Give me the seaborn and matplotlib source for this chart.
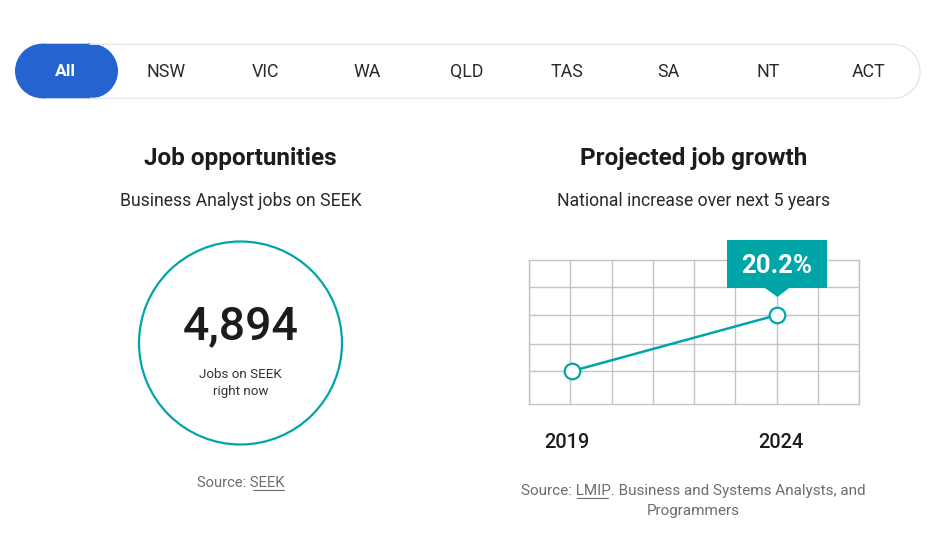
#!/usr/bin/env python

import numpy as np
import pandas as pd
import matplotlib.pyplot as plt
import seaborn as sns
from matplotlib.patches import Circle, Polygon, Rectangle

# estilo igual ao da pagina
plt.style.use('seaborn-v0_8-whitegrid')
sns.set_palette(["#00a5a8"])
plt.rcParams['font.family'] = ['Roboto', 'DejaVu Sans']

teal = '#00a5a8'
dark = '#1c1c1c'
grey = '#6d6e71'

# dados do grafico (crescimento nacional, 2019 = base 100)
growth_df = pd.DataFrame({'Year': [2019, 2024], 'Index': [100.0, 120.2]})

tabs = ['All', 'NSW', 'VIC', 'WA', 'QLD', 'TAS', 'SA', 'NT', 'ACT']
tab_x = [65, 166, 266, 367, 467, 567, 668, 768, 869]

fig = plt.figure(figsize=(9.34, 5.36), dpi=100)

# eixo do grafico de linha, posicao em pixels da figura
ax = fig.add_axes([529 / 934, 1 - 404 / 536, 330 / 934, 144 / 536])

sns.lineplot(
    data=growth_df,
    x='Year',
    y='Index',
    ax=ax,
    color=teal,
    linewidth=1.8,
    marker='o',
    markersize=11.2,
    markerfacecolor='white',
    markeredgecolor=teal,
    markeredgewidth=1.6,
    zorder=5
)

ax.set_xlim(2017.94, 2025.99)
ax.set_ylim(88.1, 140.0)
ax.set_xticks(np.linspace(2017.94, 2025.99, 9))
ax.set_yticks([100, 109.8, 120.2, 130.1])
ax.set_xlabel('')
ax.set_ylabel('')
ax.tick_params(labelbottom=False, labelleft=False, length=0)

# grade cinza
ax.grid(True, color='#c4c4c4', linestyle='-', linewidth=1.0)
ax.set_axisbelow(True)
for spine in ax.spines.values():
    spine.set_visible(True)
    spine.set_color('#c4c4c4')
    spine.set_linewidth(1.0)

# camada por cima com coordenadas em pixels para os textos e as abas
ui = fig.add_axes([0, 0, 1, 1], facecolor='none')
ui.set_xlim(0, 934)
ui.set_ylim(536, 0)
ui.axis('off')

# barra de abas
theta = np.linspace(-np.pi / 2, np.pi / 2, 60)
outline_x = np.concatenate([[90], 893 + 27 * np.cos(theta), [90]])
outline_y = np.concatenate([[44.3], 71.3 + 27 * np.sin(theta), [98.3]])
ui.plot(outline_x, outline_y, color='#e3e6ef', linewidth=1.0)
ui.add_patch(Circle((42.3, 71), 27.3, facecolor='#2563d0', edgecolor='none'))
ui.add_patch(Circle((90.7, 71), 27.3, facecolor='#2563d0', edgecolor='none'))
ui.add_patch(Rectangle((42.3, 43.7), 48.4, 54.6, facecolor='#2563d0', edgecolor='none', snap=False))
for name, x in zip(tabs, tab_x):
    if name == 'All':
        ui.text(x, 72, name, ha='center', va='center', fontsize=12.5, fontweight='bold', color='white')
    else:
        ui.text(x, 72, name, ha='center', va='center', fontsize=12.8, color='#2a2a2a')

# titulos
ui.text(240.5, 158, 'Job opportunities', ha='center', va='center', fontsize=17.5, fontweight='bold', color=dark)
ui.text(693.5, 158, 'Projected job growth', ha='center', va='center', fontsize=17.5, fontweight='bold', color=dark)
ui.text(240.5, 201, 'Business Analyst jobs on SEEK', ha='center', va='center', fontsize=12.7, color='#2a2a2a')
ui.text(693.5, 201, 'National increase over next 5 years', ha='center', va='center', fontsize=12.7, color='#2a2a2a')

# circulo com o total de vagas
ui.add_patch(Circle((240.5, 343), 101.5, facecolor='white', edgecolor=teal, linewidth=1.6))
ui.text(240.5, 326.5, '4,894', ha='center', va='center', fontsize=33.5, fontweight='medium', color=dark)
ui.text(240.5, 374, 'Jobs on SEEK', ha='center', va='center', fontsize=9.6, color='#333333')
ui.text(240.5, 392, 'right now', ha='center', va='center', fontsize=9.6, color='#333333')

# caixa do valor
ui.add_patch(Polygon([(727, 240), (827, 240), (827, 288), (789, 288), (777.5, 297), (765, 288), (727, 288)],
                     closed=True, facecolor=teal, edgecolor='none'))
ui.text(777, 266, '20.2%', ha='center', va='center', fontsize=18.5, fontweight='bold', color='white')

# anos
ui.text(567, 442, '2019', ha='center', va='center', fontsize=14.4, fontweight='medium', color=dark)
ui.text(781, 442, '2024', ha='center', va='center', fontsize=14.4, fontweight='medium', color=dark)

# fontes
ui.text(240.5, 483, 'Source: SEEK', ha='center', va='center', fontsize=10.6, color=grey)
ui.plot([253, 284], [489.5, 489.5], color=grey, linewidth=0.8)
ui.text(693.5, 491, 'Source: LMIP. Business and Systems Analysts, and', ha='center', va='center', fontsize=11, color=grey)
ui.plot([577, 608], [497.5, 497.5], color=grey, linewidth=0.8)
ui.text(693.5, 511, 'Programmers', ha='center', va='center', fontsize=11, color=grey)

# salvar figura
plt.savefig('out.png', dpi=100, facecolor='white', edgecolor='none')
